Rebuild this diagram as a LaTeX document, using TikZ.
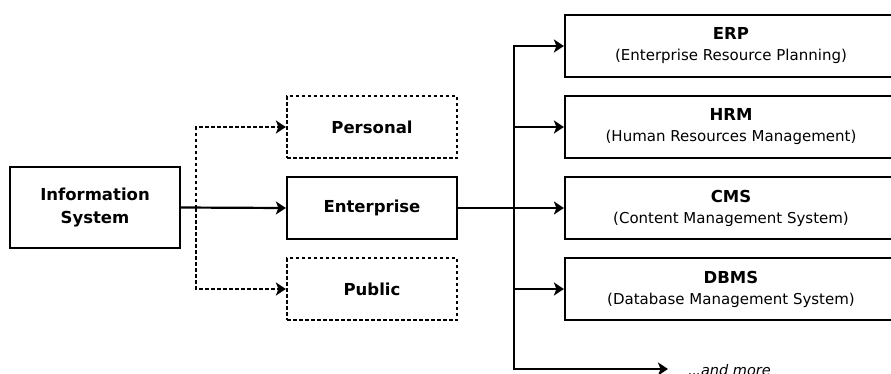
\documentclass[tikz,border=0pt]{standalone}
\usepackage{fontspec}
\setmainfont{DejaVu Sans}
\usetikzlibrary{arrows.meta}
\tikzset{
  x=1pt, y=-1pt,
  box/.style={draw, line width=2.2pt, rectangle, inner sep=0pt, align=center},
  midbox/.style={box, minimum width=170pt, minimum height=62pt, font=\fontsize{16.5}{20}\selectfont\bfseries},
  dashbox/.style={midbox, dash pattern=on 3.5pt off 2.5pt},
  appbox/.style={box, minimum width=332pt, minimum height=62pt, font=\fontsize{15}{21}\selectfont},
  link/.style={line width=2.2pt, -{Stealth[length=10pt,width=13pt,inset=2.5pt]}},
  dashlink/.style={link, dash pattern=on 3.5pt off 2.5pt},
}
\newcommand{\apptext}[2]{{\fontsize{16.5}{21}\selectfont\bfseries #1}\\#2}
\begin{document}
\begin{tikzpicture}
\useasboundingbox (0,0) rectangle (891,373);

% source system
\node[box, minimum width=170pt, minimum height=81pt, font=\fontsize{16.5}{23}\selectfont\bfseries] (is) at (95,207.5) {Information\\System};

% categories
\node[dashbox] (personal) at (372,127) {Personal};
\node[midbox] (ent) at (372,208) {Enterprise};
\node[dashbox] (public) at (372,289) {Public};

% enterprise applications
\node[appbox] (erp) at (731,46) {\apptext{ERP}{(Enterprise Resource Planning)}};
\node[appbox] (hrm) at (731,127) {\apptext{HRM}{(Human Resources Management)}};
\node[appbox] (cms) at (731,208) {\apptext{CMS}{(Content Management System)}};
\node[appbox] (dbms) at (731,289) {\apptext{DBMS}{(Database Management System)}};
\node[anchor=base west, inner sep=0pt, font=\fontsize{14.5}{18}\selectfont\itshape] (more) at (688,375.5) {.\kern-0.5pt.\kern-0.5pt.and more};

% branching points
\coordinate (split) at (196,208);
\coordinate (trunk) at (514,208);
\coordinate (moreend) at (668,369);

% connectors
\draw[link] (is.east) -- (ent.west);
\draw[dashlink] (split) |- (personal.west);
\draw[dashlink] (split) |- (public.west);

\draw[line width=2.2pt] (ent.east) -- (trunk);
\draw[link] (trunk) |- (erp.west);
\draw[link] (trunk) |- (hrm.west);
\draw[link] (trunk) -- (cms.west);
\draw[link] (trunk) |- (dbms.west);
\draw[link] (trunk) |- (moreend);
\end{tikzpicture}
\end{document}
